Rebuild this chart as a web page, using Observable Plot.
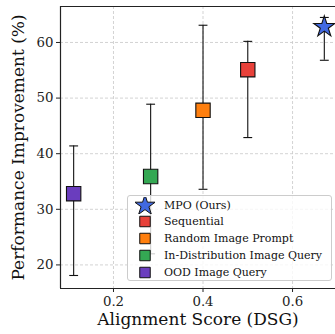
<!DOCTYPE html>
<html>
<head>
<meta charset="utf-8">
<script src="https://cdn.jsdelivr.net/npm/d3@7"></script>
<script src="https://cdn.jsdelivr.net/npm/@observablehq/plot@0.6"></script>
<style>
  html, body { margin: 0; padding: 0; background: #fff; }
  #wrap { position: relative; width: 335px; height: 334px; overflow: hidden; font-family: "DejaVu Serif", serif; }
  #legend { position: absolute; left: 127px; top: 195px; width: 205px; height: 86px; box-sizing: border-box;
    background: rgba(255,255,255,0.8); border: 1px solid #cccccc; border-radius: 3px; }
  .row { position: absolute; left: 0; height: 17px; display: flex; align-items: center; font-size: 11px; color: #111; white-space: nowrap; }
  .row svg { position: absolute; left: 7px; }
  .row span { position: absolute; left: 36px; }
</style>
</head>
<body>
<div id="wrap"></div>
<script>
const methods = ["MPO (Ours)", "Sequential", "Random Image Prompt", "In-Distribution Image Query", "OOD Image Query"];
const alignment = [0.671, 0.50, 0.40, 0.283, 0.111];
const improvement = [62.8, 55.1, 47.8, 35.9, 32.8];
const errLow = [56.8, 42.9, 33.6, 22.0, 18.1];
const errHigh = [64.5, 60.2, 63.1, 48.9, 41.4];
const colors = ["#4169E1", "#E8413A", "#FF7F0E", "#34A853", "#6A3DBE"];
const shapes = ["star", "square", "square", "square", "square"];
const xTicks = [0.2, 0.4, 0.6];
const yTicks = [20, 30, 40, 50, 60];

const data = methods.map((m, i) => ({
  method: m, x: alignment[i], y: improvement[i], lo: errLow[i], hi: errHigh[i],
  color: colors[i], shape: shapes[i]
}));

const xDomain = [0.0816, 0.696];
const yDomain = [15.76, 66.47];

const capSymbol = {
  draw(context, size) {
    const r = Math.sqrt(size) / 2;
    context.moveTo(-r, 0);
    context.lineTo(r, 0);
  }
};

const chart = Plot.plot({
  width: 335,
  height: 334,
  marginLeft: 60,
  marginRight: 0,
  marginTop: 6,
  marginBottom: 46,
  style: { fontFamily: "DejaVu Serif", fontSize: "13px", color: "#222", background: "white", overflow: "hidden" },
  x: { domain: xDomain },
  y: { domain: yDomain },
  marks: [
    Plot.gridX(xTicks, { stroke: "#c8c8c8", strokeOpacity: 1, strokeDasharray: "3,2", strokeWidth: 0.8 }),
    Plot.gridY(yTicks, { stroke: "#c8c8c8", strokeOpacity: 1, strokeDasharray: "3,2", strokeWidth: 0.8 }),
    Plot.axisX(xTicks, { tickSize: 4, tickPadding: 4, fontSize: 13.3, label: null, tickFormat: d => d.toFixed(1), stroke: "#222" }),
    Plot.axisY(yTicks, { tickSize: 4, tickPadding: 3, fontSize: 13.3, label: null, stroke: "#222" }),
    Plot.ruleX([xDomain[0]], { stroke: "#222", strokeWidth: 1.2 }),
    Plot.ruleY([yDomain[0], yDomain[1]], { stroke: "#222", strokeWidth: 1.2 }),
    Plot.ruleX(data, { x: "x", y1: "lo", y2: "hi", stroke: "#111", strokeWidth: 1.1 }),
    Plot.dot(data, { x: "x", y: "lo", symbol: capSymbol, r: 5, fill: "none", stroke: "#111", strokeWidth: 1.1 }),
    Plot.dot(data, { x: "x", y: "hi", symbol: capSymbol, r: 5, fill: "none", stroke: "#111", strokeWidth: 1.1 }),
    Plot.dot(data.filter(d => d.shape === "square"), { x: "x", y: "y", symbol: "square", r: 8.1, fill: "color", stroke: "#111", strokeWidth: 1.1 }),
    Plot.dot(data.filter(d => d.shape === "star"), { x: "x", y: "y", symbol: "star", r: 6.6, fill: "color", stroke: "#111", strokeWidth: 1.1 }),
    Plot.text(["Alignment Score (DSG)"], { frameAnchor: "bottom", dy: 36, fontSize: 17, fill: "#111", textAnchor: "middle" }),
    Plot.text(["Performance Improvement (%)"], { frameAnchor: "left", dx: -42, rotate: -90, fontSize: 17, fill: "#111", textAnchor: "middle" })
  ]
});

const wrap = document.getElementById("wrap");
wrap.appendChild(chart);

// legend
const legend = document.createElement("div");
legend.id = "legend";
methods.forEach((m, i) => {
  const row = document.createElement("div");
  row.className = "row";
  row.style.top = (0.5 + i * 16.8) + "px";
  row.style.width = "100%";
  const size = shapes[i] === "star" ? 130 : 110;
  const path = d3.symbol(shapes[i] === "star" ? d3.symbolStar : d3.symbolSquare, size)();
  const sw = document.createElementNS("http://www.w3.org/2000/svg", "svg");
  sw.setAttribute("width", 20); sw.setAttribute("height", 17);
  sw.setAttribute("viewBox", "-10 -8.5 20 17");
  const p = document.createElementNS("http://www.w3.org/2000/svg", "path");
  p.setAttribute("d", path);
  p.setAttribute("fill", colors[i]);
  p.setAttribute("stroke", "#111");
  p.setAttribute("stroke-width", "1");
  sw.appendChild(p);
  row.appendChild(sw);
  const t = document.createElement("span");
  t.textContent = m;
  row.appendChild(t);
  legend.appendChild(row);
});
wrap.appendChild(legend);
</script>
</body>
</html>
